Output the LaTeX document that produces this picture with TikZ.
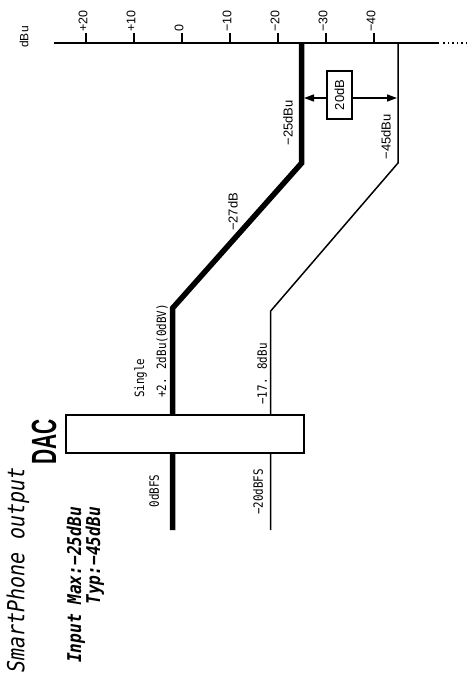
\documentclass[tikz,border=0pt]{standalone}
\usepackage{fontspec}
\setmainfont{Liberation Sans}
\newfontfamily\gothic[FakeStretch=0.85]{DejaVu Sans Mono}
\newfontfamily\dacfont[FakeStretch=0.6]{Liberation Sans}
\usetikzlibrary{arrows.meta}

\begin{document}
\begin{tikzpicture}[x=1pt, y=-1pt,
    axis/.style={line width=1.8pt},
    signal/.style={line width=1.5pt},
    peak/.style={line width=5.5pt},
    arrow/.style={line width=1.5pt, -{Triangle[length=10pt, width=7pt]}},
    lbl/.style={rotate=90, inner sep=0pt, font=\fontsize{13}{15}\selectfont},
    ticklbl/.style={lbl, font=\fontsize{12.5}{15}\selectfont, anchor=west},
    small/.style={lbl, font=\gothic\fontsize{12.8}{22}\selectfont}
  ]
    \fill[white] (0,0) rectangle (471,682);
    \useasboundingbox (0,0) rectangle (471,682);
    % dBu scale
    \coordinate (ax0) at (54,43);
    \coordinate (ax1) at (439,43);
    \coordinate (dots0) at (443,43);
    \coordinate (dots1) at (468,43);
    \draw[axis] (ax0) -- (ax1);
    \draw[line width=1.5pt, dash pattern=on 1.5pt off 3pt] (dots0) -- (dots1);
    \foreach \v [count=\i from 0] in {+20,+10,0,−10,−20,−30,−40}{
      \coordinate (k\i) at (86+48*\i,43);
      \draw[line width=2pt] (k\i) -- ++(0,-10);
      \node[ticklbl] (t\i) at (83+48*\i,32) {\v};
    }
    \node[lbl, font=\fontsize{12}{14}\selectfont] (unit) at (24,37) {dBu};
    % level lines
    \coordinate (h0) at (172.7,530);
    \coordinate (h1) at (172.7,308);
    \coordinate (h2) at (301.7,163);
    \coordinate (h3) at (301.7,43);
    \coordinate (s0) at (270.7,530);
    \coordinate (s1) at (270.7,311);
    \coordinate (s2) at (398,163);
    \coordinate (s3) at (398,43);
    \draw[peak] (h0) -- (h1) -- (h2) -- (h3);
    \draw[signal] (s0) -- (s1) -- (s2) -- (s3);
    \node[draw, fill=white, line width=1.2pt, inner sep=0pt,
          minimum width=238pt, minimum height=38pt] (dac) at (185,434) {};
    % gain difference
    \node[lbl, draw, line width=1.2pt, minimum width=48pt, minimum height=25pt] (gain) at (339.5,95) {20dB};
    \coordinate (gh) at (304,98);
    \coordinate (gs) at (397,98);
    \draw[arrow] (gain.north |- gh) -- (gh);
    \draw[arrow] (gain.south |- gs) -- (gs);
    % labels
    \node[lbl] (pmax) at (288,123) {−25dBu};
    \node[lbl] (ptyp) at (386,137) {−45dBu};
    \node[lbl] (att) at (233,212) {−27dB};
    \node[small, align=left] (single) at (151,351) {Single\\+2. 2dBu(0dBV)};
    \node[small] (styp) at (262,374) {−17. 8dBu};
    \node[small] (fs0) at (154,491) {0dBFS};
    \node[small] (fs20) at (258,492) {−20dBFS};
    \node[lbl, font=\dacfont\bfseries\fontsize{35}{35}\selectfont] (daclbl) at (44,442) {DAC};
    \node[lbl, font=\gothic\itshape\fontsize{23.5}{24}\selectfont] (title) at (18,570) {SmartPhone output};
    \node[lbl, align=right, font=\gothic\bfseries\itshape\fontsize{19}{19}\selectfont] (input) at (85.5,585) {Input Max:−25dBu\\Typ:−45dBu};
\end{tikzpicture}
\end{document}
